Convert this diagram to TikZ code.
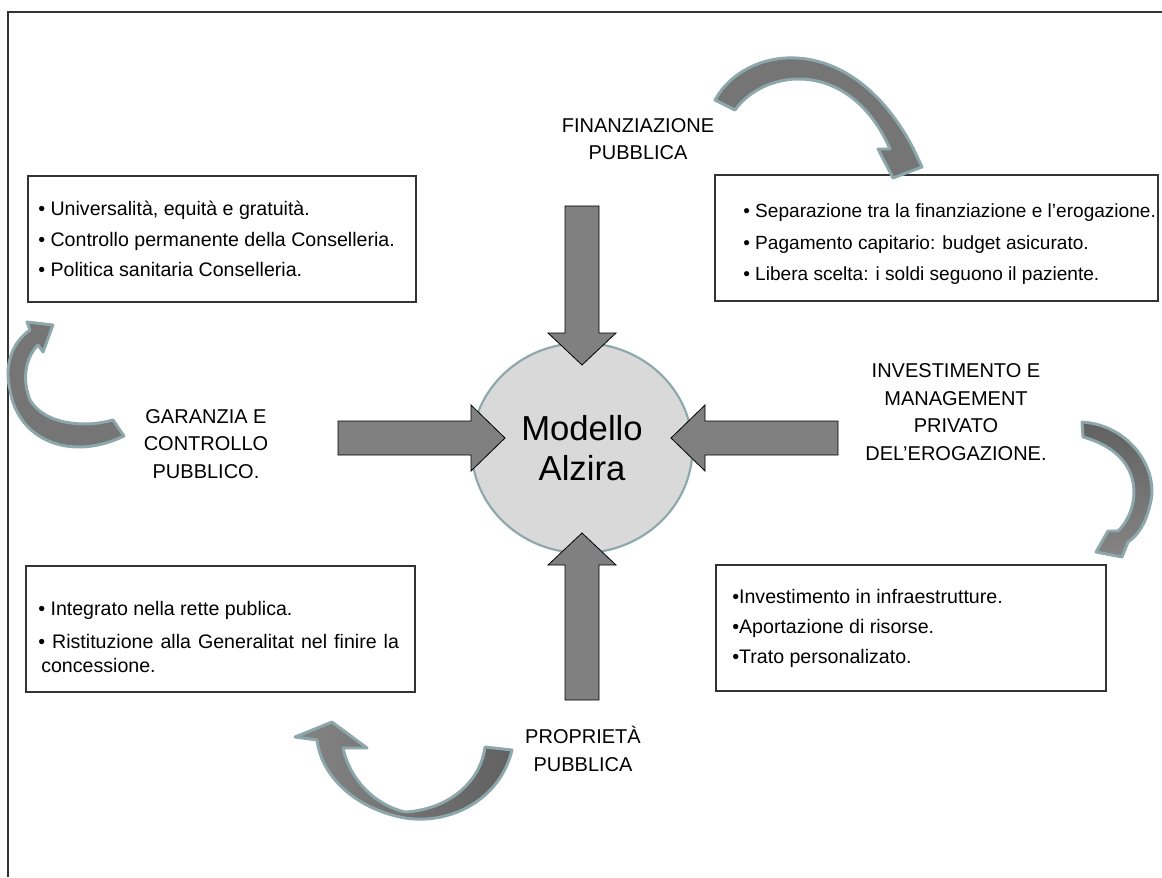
\documentclass[tikz,border=0pt]{standalone}
\usepackage{fontspec}
\setmainfont{Liberation Sans}
\usetikzlibrary{shapes.geometric}
\definecolor{rimColor}{RGB}{140,168,171}
\definecolor{hubFill}{RGB}{217,217,217}
\definecolor{blockFill}{RGB}{128,128,128}

\begin{document}
\begin{tikzpicture}[x=0.75pt,y=-0.75pt]

          \tikzstyle{frameLine} = [line width=1.1pt, black!80];
          \tikzstyle{listBox} = [line width=0.8pt, black!80];
          \tikzstyle{listText} = [anchor=base west, inner sep=0pt, font=\fontsize{14.7}{18}\selectfont];
          \tikzstyle{listTextNarrow} = [anchor=base west, inner sep=0pt, font=\fontsize{14.3}{18}\selectfont];
          \tikzstyle{pillarText} = [align=center, inner sep=0pt, font=\fontsize{15}{20.8}\selectfont];
          \tikzstyle{hubNode} = [ellipse, draw=rimColor, line width=1.6pt, fill=hubFill, minimum width=165.75pt, minimum height=157.5pt, align=center, font=\fontsize{26}{30}\selectfont];
          \tikzstyle{blockArrow} = [fill=blockFill, draw=black, line width=0.6pt];
          \tikzstyle{curveArrow} = [draw=rimColor, line width=2.2pt, line join=round];

          \useasboundingbox (0,0) rectangle (1162,877);
          \draw[frameLine] (8,877) -- (8,12) -- (1162,12);

          % the four boxes
          \draw[listBox] (28,176) rectangle (416,302);
          \draw[listBox] (715,175) rectangle (1158,301);
          \draw[listBox] (26,566) rectangle (415,692);
          \draw[listBox] (716,565) rectangle (1106,691);

          \node[listText] (garA) at (38,216) {• Universalità, equità e gratuità.};
          \node[listText] (garB) at (38,246) {• Controllo permanente della Conselleria.};
          \node[listText] (garC) at (38,276) {• Politica sanitaria Conselleria.};

          \node[listTextNarrow] (finA) at (743,218) {• Separazione tra la finanziazione e l’erogazione.};
          \node[listTextNarrow] (finB) at (743,249) {• Pagamento capitario: budget asicurato.};
          \node[listTextNarrow] (finC) at (743,280) {• Libera scelta: i soldi seguono il paziente.};

          \node[listText] (proA) at (38,615) {• Integrato nella rette publica.};
          \node[listText] (proB) at (38,648) {\spaceskip=0.36em • Ristituzione alla Generalitat nel finire la};
          \node[listText] (proC) at (41,672) {concessione.};

          \node[listText] (invA) at (732,603) {•Investimento in infraestrutture.};
          \node[listText] (invB) at (732,633) {•Aportazione di risorse.};
          \node[listText] (invC) at (732,663) {•Trato personalizato.};

          % pillar labels
          \node[pillarText] (fin) at (638,139) {FINANZIAZIONE\\PUBBLICA};
          \node[pillarText] (gar) at (206,444) {GARANZIA E\\CONTROLLO\\PUBBLICO.};
          \node[pillarText] (inv) at (956,412) {INVESTIMENTO E\\MANAGEMENT\\PRIVATO\\DEL’EROGAZIONE.};
          \node[pillarText] (pro) at (583,749) {PROPRIETÀ\\PUBBLICA};

          % centre
          \node[hubNode] (hub) at (582,448) {Modello\\Alzira};

          % block arrows into the centre
          \draw[blockArrow] (565,206) -- (599,206) -- (599,333) -- (616,333) -- (582,365) -- (548,333) -- (565,333) -- cycle;
          \draw[blockArrow] (565,700) -- (599,700) -- (599,565) -- (616,565) -- (582,533) -- (548,565) -- (565,565) -- cycle;
          \draw[blockArrow] (338,421) -- (471,421) -- (471,405) -- (505,438) -- (471,471) -- (471,455) -- (338,455) -- cycle;
          \draw[blockArrow] (838,421) -- (705,421) -- (705,405) -- (671,438) -- (705,471) -- (705,455) -- (838,455) -- cycle;

          % curved arrows
          \draw[curveArrow, fill=black!54] (715,100) .. controls (745,45) and (850,28) .. (913,148)
            -- (922,167) -- (893,178) -- (878,149) -- (890,149)
            .. controls (850,58) and (765,68) .. (735,110) -- cycle;
          \draw[curveArrow, fill=black!54] (124,436) .. controls (70,462) and (18,440) .. (10,390)
            .. controls (3,362) and (15,340) .. (30,330)
            -- (27,322) -- (53,325) -- (43,352) -- (38,345)
            .. controls (25,358) and (22,380) .. (30,400)
            .. controls (45,425) and (85,428) .. (113,420) -- cycle;
          \draw[curveArrow, top color=black!62, bottom color=black!48] (1082,422) .. controls (1130,425) and (1160,470) .. (1150,505)
            .. controls (1145,525) and (1138,535) .. (1128,542)
            -- (1122,557) -- (1096,552) -- (1108,531) -- (1118,531)
            .. controls (1140,510) and (1148,455) .. (1083,437) -- cycle;
          \draw[curveArrow, left color=black!48, right color=black!62] (512,750) .. controls (500,800) and (450,825) .. (405,818)
            .. controls (360,810) and (322,780) .. (317,740)
            -- (295,737) -- (332,722) -- (367,748) -- (343,748)
            .. controls (350,780) and (375,805) .. (405,812)
            .. controls (445,810) and (480,785) .. (485,747) -- cycle;
        \end{tikzpicture}
\end{document}
